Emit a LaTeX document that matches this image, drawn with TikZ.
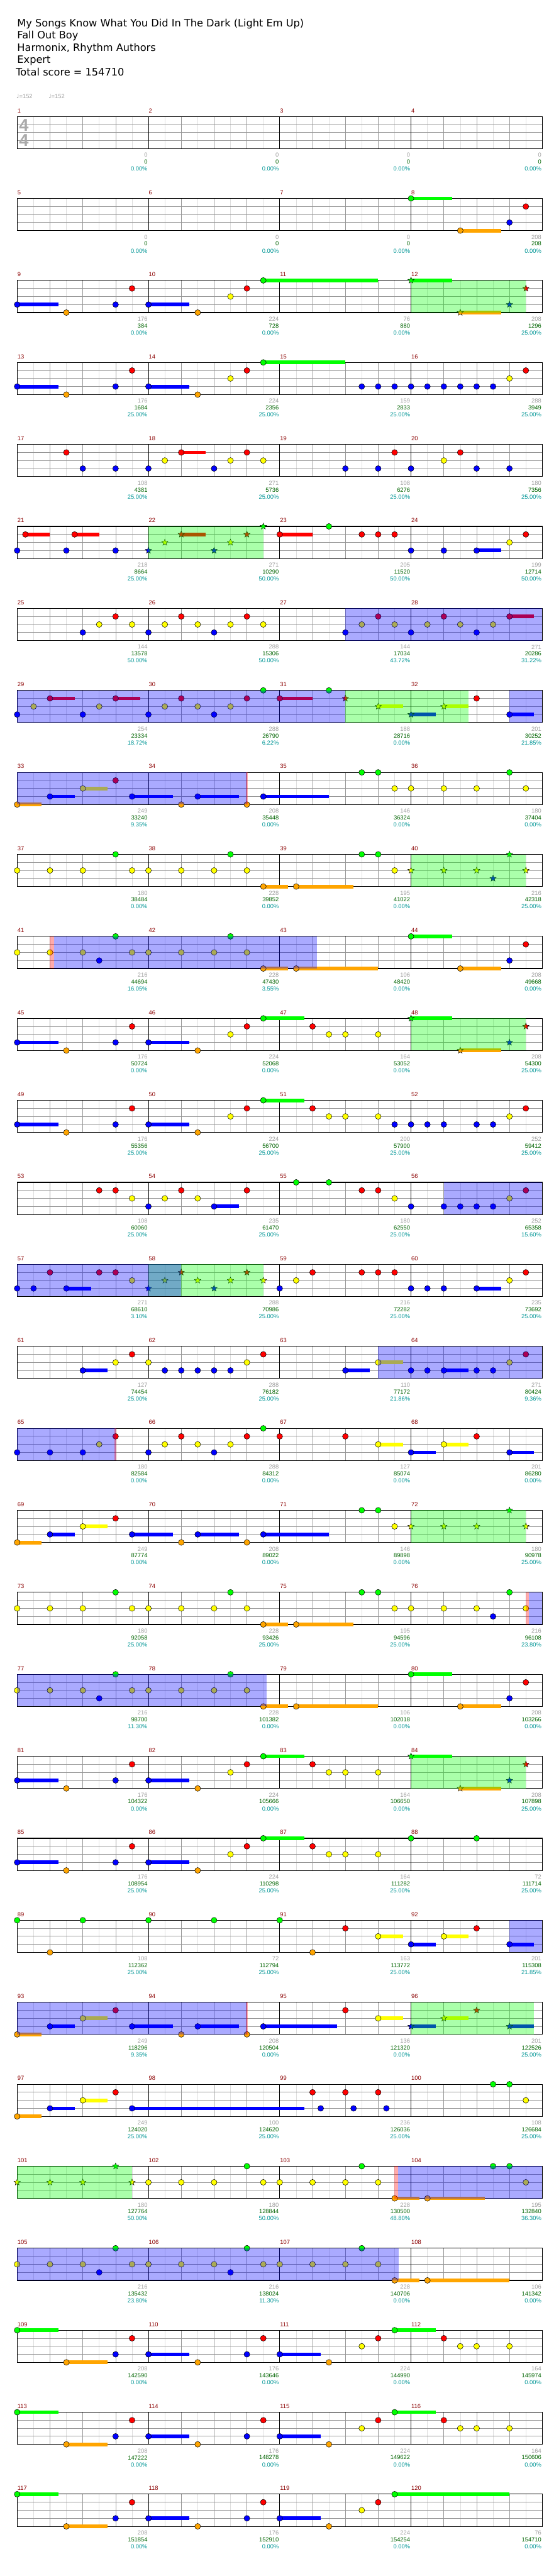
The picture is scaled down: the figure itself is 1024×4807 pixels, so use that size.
\documentclass[tikz,border=0pt]{standalone}
\usepackage{fontspec}
\setmainfont{DejaVu Sans}
\newfontfamily\numfont{Liberation Sans}
\usetikzlibrary{shapes.geometric}
\definecolor{c0}{RGB}{0,255,0}
\definecolor{c1}{RGB}{255,0,0}
\definecolor{c2}{RGB}{255,255,0}
\definecolor{c3}{RGB}{0,0,255}
\definecolor{c4}{RGB}{255,165,0}
\definecolor{mnum}{RGB}{139,0,0}
\definecolor{gnum}{RGB}{160,160,160}
\definecolor{snum}{RGB}{0,100,0}
\definecolor{pnum}{RGB}{0,150,150}
\definecolor{lgrid}{RGB}{222,222,222}
\definecolor{dgrid}{RGB}{150,150,150}
\definecolor{tsig}{RGB}{170,170,170}
\tikzset{
  notehead/.style={draw=black,line width=0.6pt},
  starnote/.style={star,star points=5,star point ratio=2.3,minimum size=12.5pt,inner sep=0pt,draw=black,line width=0.5pt},
  mlab/.style={anchor=west,inner sep=0pt,text=mnum,font=\numfont\fontsize{11}{12}\selectfont},
  glab/.style={anchor=east,inner sep=0pt,text=gnum,font=\numfont\fontsize{11}{12}\selectfont},
  slab/.style={anchor=east,inner sep=0pt,text=snum,font=\numfont\fontsize{11}{12}\selectfont},
  plab/.style={anchor=east,inner sep=0pt,text=pnum,font=\numfont\fontsize{11}{12}\selectfont},
  titletext/.style={anchor=base west,inner sep=0pt,font=\fontsize{19}{23}\selectfont},
  tempotext/.style={anchor=west,inner sep=0pt,text=gnum,font=\fontsize{11}{12}\selectfont},
  tsigtext/.style={inner sep=0pt,text=tsig,font=\numfont\bfseries\fontsize{32}{34}\selectfont}
}
\newcommand\Grid{%
  \foreach \xI in {1,3,...,31} \draw[lgrid,line width=0.8pt] ({32+30.625*\xI},0) -- ++(0,60);
  \foreach \xI in {2,4,6,10,12,14,18,20,22,26,28,30} \draw[dgrid,line width=0.8pt] ({32+30.625*\xI},0) -- ++(0,60);
  \foreach \xI in {1,2,3} \draw[dgrid,line width=1pt] (32,15*\xI) -- (1012,15*\xI);
  \foreach \xI in {8,16,24} \draw[black,line width=0.7pt] ({32+30.625*\xI},0) -- ++(0,60);
  \draw[black,line width=1.3pt] (32,0) rectangle (1012,60);
}
\newcommand\Sus[1]{\foreach \xT/\xL/\xE in {#1} {\fill[c\xL] ({32+30.625*\xT},{15*\xL-3.4}) rectangle ({32+30.625*\xE},{15*\xL+3.4});}}
\newcommand\Notes[1]{\foreach \xT/\xL in {#1} {\filldraw[notehead,fill=c\xL] ({32+30.625*\xT},{15*\xL}) circle[radius=5.4];}}
\newcommand\Stars[1]{\foreach \xT/\xL in {#1} {\node[starnote,fill=c\xL] at ({32+30.625*\xT},{15*\xL}) {};}}
\newcommand\GZ[2]{\fill[c0,fill opacity=0.333] ({32+30.625*#1},0) rectangle ({32+30.625*#2},60);}
\newcommand\BZ[2]{\fill[c3,fill opacity=0.333] ({32+30.625*#1},0) rectangle ({32+30.625*#2},60);}
\newcommand\PZ[2]{\fill[c1,fill opacity=0.333] ({32+30.625*#1},0) rectangle ({32+30.625*#2},60);}
\newcommand\Labs[2]{\foreach \xG/\xN/\xP [count=\xM from 0] in {#2} {%
  \node[mlab] (m\the\numexpr#1+\xM\relax) at ({32.5+245*\xM},-11) {\the\numexpr#1+\xM\relax};
  \node[glab] at ({275.5+245*\xM},72) {\xG};
  \node[slab] at ({275.5+245*\xM},84.7) {\xN};
  \node[plab] at ({275.5+245*\xM},97.7) {\xP\%};}}
\newcommand\RowAt[1]{{217.3+153*#1}}
\begin{document}
\begin{tikzpicture}[x=1pt,y=-1pt]
\fill[white] (0,0) rectangle (1024,4807);
\useasboundingbox (0,0) rectangle (1024,4807);
% header
\node[titletext] (t1) at (32,50) {My Songs Know What You Did In The Dark (Light Em Up)};
\node[titletext] (t2) at (32,72.5) {Fall Out Boy};
\node[titletext] (t3) at (32,95.5) {Harmonix, Rhythm Authors};
\node[titletext] (t4) at (32,118.5) {Expert};
\node[titletext] (t5) at (29.5,141.5) {Total score = 154710};
\node[tempotext] (tp1) at (30.5,180) {♩{\numfont=152}};
\node[tempotext] (tp2) at (90.5,180) {♩{\numfont=152}};
% row 0
\begin{scope}[shift={(0,\RowAt{0})}]
\Grid
\node[tsigtext] (ts1) at (44.5,16) {4};
\node[tsigtext] (ts2) at (44.5,45) {4};
\Labs{1}{0/0/0.00,0/0/0.00,0/0/0.00,0/0/0.00}
\end{scope}
% row 1
\begin{scope}[shift={(0,\RowAt{1})}]
\Grid
\Sus{24/0/26.5,27/4/29.5}
\Notes{24/0,31/1,30/3,27/4}
\Labs{5}{0/0/0.00,0/0/0.00,0/0/0.00,208/208/0.00}
\end{scope}
% row 2
\begin{scope}[shift={(0,\RowAt{2})}]
\Grid
\Sus{0/3/2.5,8/3/10.5,15/0/22,24/0/26.5,27/4/29.5}
\Notes{0/3,3/4,6/3,7/1,8/3,11/4,13/2,14/1,15/0}
\Stars{24/0,27/4,30/3,31/1}
\GZ{24}{31}
\Labs{9}{176/384/0.00,224/728/0.00,76/880/0.00,208/1296/25.00}
\end{scope}
% row 3
\begin{scope}[shift={(0,\RowAt{3})}]
\Grid
\Sus{0/3/2.5,8/3/10.5,15/0/20}
\Notes{0/3,3/4,6/3,7/1,8/3,11/4,13/2,14/1,15/0,21/3,22/3,23/3,24/3,25/3,26/3,27/3,28/3,29/3,30/2,31/1}
\Labs{13}{176/1684/25.00,224/2356/25.00,159/2833/25.00,288/3949/25.00}
\end{scope}
% row 4
\begin{scope}[shift={(0,\RowAt{4})}]
\Grid
\Sus{10/1/11.5}
\Notes{3/1,4/3,6/3,8/3,9/2,10/1,12/3,13/2,14/1,15/2,20/3,22/3,23/1,24/3,26/2,27/1,28/3,30/3}
\Labs{17}{108/4381/25.00,271/5736/25.00,108/6276/25.00,180/7356/25.00}
\end{scope}
% row 5
\begin{scope}[shift={(0,\RowAt{5})}]
\Grid
\Sus{0.5/1/2,3.5/1/5,10/1/11.5,16/1/18,28/3/29.5}
\Notes{0/3,0.5/1,3/3,3.5/1,6/3,16/1,19/0,21/1,22/1,23/1,24/3,26/3,28/3,30/2,31/1}
\Stars{8/3,9/2,10/1,12/3,13/2,14/1,15/0}
\GZ{8}{15}
\Labs{21}{218/8664/25.00,271/10290/50.00,205/11520/50.00,199/12714/50.00}
\end{scope}
% row 6
\begin{scope}[shift={(0,\RowAt{6})}]
\Grid
\Sus{30/1/31.5}
\Notes{4/3,5/2,6/1,7/2,8/3,9/2,10/1,11/2,12/3,13/2,14/1,15/2,20/3,21/2,22/1,23/2,24/3,25/2,26/1,27/2,28/3,29/2,30/1}
\BZ{20}{32}
\Labs{25}{144/13578/50.00,288/15306/50.00,144/17034/43.72,271/20286/31.22}
\end{scope}
% row 7
\begin{scope}[shift={(0,\RowAt{7})}]
\Grid
\Sus{2/1/3.5,6/1/7.5,16/1/18,22/2/23.5,24/3/25.5,26/2/27.5,30/3/31.5}
\Notes{0/3,1/2,2/1,4/3,5/2,6/1,8/3,9/2,10/1,11/2,12/3,13/2,14/1,15/0,16/1,19/0,28/1,30/3}
\Stars{20/1,22/2,24/3,26/2}
\GZ{20}{27.5}
\BZ{0}{20}
\BZ{30}{32}
\Labs{29}{254/23334/18.72,288/26790/6.22,188/28716/0.00,201/30252/21.85}
\end{scope}
% row 8
\begin{scope}[shift={(0,\RowAt{8})}]
\Grid
\Sus{0/4/1.5,2/3/3.5,4/2/5.5,7/3/9.5,11/3/13.5,15/3/19}
\Notes{0/4,2/3,4/2,6/1,7/3,10/4,11/3,14/4,15/3,21/0,22/0,23/2,24/2,26/2,28/2,30/0,31/2}
\BZ{0}{14}
\PZ{13.94}{14.04}
\Labs{33}{249/33240/9.35,208/35448/0.00,146/36324/0.00,180/37404/0.00}
\end{scope}
% row 9
\begin{scope}[shift={(0,\RowAt{9})}]
\Grid
\Sus{15/4/16.5,17/4/20.5}
\Notes{0/2,2/2,4/2,6/0,7/2,8/2,10/2,12/2,13/0,14/2,15/4,17/4,21/0,22/0,23/2}
\Stars{24/2,26/2,28/2,29/3,30/0,31/2}
\GZ{24}{31}
\Labs{37}{180/38484/0.00,228/39852/0.00,195/41022/0.00,216/42318/25.00}
\end{scope}
% row 10
\begin{scope}[shift={(0,\RowAt{10})}]
\Grid
\Sus{15/4/16.5,17/4/22,24/0/26.5,27/4/29.5}
\Notes{0/2,2/2,4/2,5/3,6/0,7/2,8/2,10/2,12/2,13/0,14/2,15/4,17/4,24/0,27/4,30/3,31/1}
\PZ{2}{2.25}
\BZ{2.25}{18.25}
\Labs{41}{216/44694/16.05,228/47430/3.55,106/48420/0.00,208/49668/0.00}
\end{scope}
% row 11
\begin{scope}[shift={(0,\RowAt{11})}]
\Grid
\Sus{0/3/2.5,8/3/10.5,15/0/17.5,24/0/26.5,27/4/29.5}
\Notes{0/3,3/4,6/3,7/1,8/3,11/4,13/2,14/1,15/0,18/1,19/2,20/2,22/2}
\Stars{24/0,27/4,30/3,31/1}
\GZ{24}{31}
\Labs{45}{176/50724/0.00,224/52068/0.00,164/53052/0.00,208/54300/25.00}
\end{scope}
% row 12
\begin{scope}[shift={(0,\RowAt{12})}]
\Grid
\Sus{0/3/2.5,8/3/10.5,15/0/17.5}
\Notes{0/3,3/4,6/3,7/1,8/3,11/4,13/2,14/1,15/0,18/1,19/2,20/2,22/2,23/3,24/3,25/3,26/3,28/3,29/3,30/2,31/1}
\Labs{49}{176/55356/25.00,224/56700/25.00,200/57900/25.00,252/59412/25.00}
\end{scope}
% row 13
\begin{scope}[shift={(0,\RowAt{13})}]
\Grid
\Sus{12/3/13.5}
\Notes{5/1,6/1,7/2,8/3,9/2,10/1,11/2,12/3,14/1,17/0,19/0,21/1,22/1,23/2,24/3,26/3,27/3,28/3,29/3,30/2,31/1}
\BZ{26}{32}
\Labs{53}{108/60060/25.00,235/61470/25.00,180/62550/25.00,252/65358/15.60}
\end{scope}
% row 14
\begin{scope}[shift={(0,\RowAt{14})}]
\Grid
\Sus{3/3/4.5,28/3/29.5}
\Notes{0/3,1/3,2/1,3/3,5/1,6/1,7/2,16/3,17/2,18/1,21/1,22/1,23/1,24/3,25/3,26/3,28/3,30/2,31/1}
\Stars{8/3,9/2,10/1,11/2,12/3,13/2,14/1,15/2}
\GZ{8}{15}
\BZ{0}{10}
\Labs{57}{271/68610/3.10,288/70986/25.00,216/72282/25.00,235/73692/25.00}
\end{scope}
% row 15
\begin{scope}[shift={(0,\RowAt{15})}]
\Grid
\Sus{4/3/5.5,20/3/21.5,22/2/23.5,26/3/27.5}
\Notes{4/3,6/2,7/1,8/2,9/3,10/3,11/3,12/3,13/3,14/2,15/1,20/3,22/2,24/3,25/3,26/3,28/3,29/3,30/2,31/1}
\BZ{22}{32}
\Labs{61}{127/74454/25.00,288/76182/25.00,110/77172/21.86,271/80424/9.36}
\end{scope}
% row 16
\begin{scope}[shift={(0,\RowAt{16})}]
\Grid
\Sus{22/2/23.5,24/3/25.5,26/2/27.5,30/3/31.5}
\Notes{0/3,2/3,4/3,5/2,6/1,8/3,9/2,10/1,11/2,12/3,13/2,14/1,15/0,16/1,20/1,22/2,24/3,26/2,28/1,30/3}
\BZ{0}{6}
\PZ{5.94}{6.04}
\Labs{65}{180/82584/0.00,288/84312/0.00,127/85074/0.00,201/86280/0.00}
\end{scope}
% row 17
\begin{scope}[shift={(0,\RowAt{17})}]
\Grid
\Sus{0/4/1.5,2/3/3.5,4/2/5.5,7/3/9.5,11/3/13.5,15/3/19}
\Notes{0/4,2/3,4/2,6/1,7/3,10/4,11/3,14/4,15/3,21/0,22/0,23/2}
\Stars{24/2,26/2,28/2,30/0,31/2}
\GZ{24}{31}
\Labs{69}{249/87774/0.00,208/89022/0.00,146/89898/0.00,180/90978/25.00}
\end{scope}
% row 18
\begin{scope}[shift={(0,\RowAt{18})}]
\Grid
\Sus{15/4/16.5,17/4/20.5}
\Notes{0/2,2/2,4/2,6/0,7/2,8/2,10/2,12/2,13/0,14/2,15/4,17/4,21/0,22/0,23/2,24/2,26/2,28/2,29/3,30/0,31/2}
\PZ{31}{31.2}
\BZ{31.2}{32}
\Labs{73}{180/92058/25.00,228/93426/25.00,195/94596/25.00,216/96108/23.80}
\end{scope}
% row 19
\begin{scope}[shift={(0,\RowAt{19})}]
\Grid
\Sus{15/4/16.5,17/4/22,24/0/26.5,27/4/29.5}
\Notes{0/2,2/2,4/2,5/3,6/0,7/2,8/2,10/2,12/2,13/0,14/2,15/4,17/4,24/0,27/4,30/3,31/1}
\BZ{0}{15.2}
\Labs{77}{216/98700/11.30,228/101382/0.00,106/102018/0.00,208/103266/0.00}
\end{scope}
% row 20
\begin{scope}[shift={(0,\RowAt{20})}]
\Grid
\Sus{0/3/2.5,8/3/10.5,15/0/17.5,24/0/26.5,27/4/29.5}
\Notes{0/3,3/4,6/3,7/1,8/3,11/4,13/2,14/1,15/0,18/1,19/2,20/2,22/2}
\Stars{24/0,27/4,30/3,31/1}
\GZ{24}{31}
\Labs{81}{176/104322/0.00,224/105666/0.00,164/106650/0.00,208/107898/25.00}
\end{scope}
% row 21
\begin{scope}[shift={(0,\RowAt{21})}]
\Grid
\Sus{0/3/2.5,8/3/10.5,15/0/17.5}
\Notes{0/3,3/4,6/3,7/1,8/3,11/4,13/2,14/1,15/0,18/1,19/2,20/2,22/2,24/0,28/0}
\Labs{85}{176/108954/25.00,224/110298/25.00,164/111282/25.00,72/111714/25.00}
\end{scope}
% row 22
\begin{scope}[shift={(0,\RowAt{22})}]
\Grid
\Sus{22/2/23.5,24/3/25.5,26/2/27.5,30/3/31.5}
\Notes{0/0,2/4,4/0,8/0,12/0,16/0,18/4,20/1,22/2,24/3,26/2,28/1,30/3}
\BZ{30}{32}
\Labs{89}{108/112362/25.00,72/112794/25.00,163/113772/25.00,201/115308/21.85}
\end{scope}
% row 23
\begin{scope}[shift={(0,\RowAt{23})}]
\Grid
\Sus{0/4/1.5,2/3/3.5,4/2/5.5,7/3/9.5,11/3/13.5,15/3/19.5,22/2/23.5,24/3/25.5,26/2/27.5,30/3/31.5}
\Notes{0/4,2/3,4/2,6/1,7/3,10/4,11/3,14/4,15/3,20/1,22/2}
\Stars{24/3,26/2,28/1,30/3}
\GZ{24}{31.5}
\BZ{0}{14}
\PZ{13.94}{14.04}
\Labs{93}{249/118296/9.35,208/120504/0.00,136/121320/0.00,201/122526/25.00}
\end{scope}
% row 24
\begin{scope}[shift={(0,\RowAt{24})}]
\Grid
\Sus{0/4/1.5,2/3/3.5,4/2/5.5,7/3/17.5}
\Notes{0/4,2/3,4/2,6/1,7/3,18/1,18.5/3,20/1,20.5/3,22/1,22.5/3,29/0,30/0,31/2}
\Labs{97}{249/124020/25.00,100/124620/25.00,236/126036/25.00,108/126684/25.00}
\end{scope}
% row 25
\begin{scope}[shift={(0,\RowAt{25})}]
\Grid
\Sus{23/4/24.5,25/4/28.5}
\Notes{8/2,10/2,12/2,14/0,15/2,16/2,18/2,20/2,21/0,22/2,23/4,25/4,29/0,30/0,31/2}
\Stars{0/2,2/2,4/2,6/0,7/2}
\GZ{0}{7}
\PZ{23}{23.2}
\BZ{23.2}{32}
\Labs{101}{180/127764/50.00,180/128844/50.00,228/130500/48.80,195/132840/36.30}
\end{scope}
% row 26
\begin{scope}[shift={(0,\RowAt{26})}]
\Grid
\Sus{23/4/24.5,25/4/30}
\Notes{0/2,2/2,4/2,5/3,6/0,7/2,8/2,10/2,12/2,13/3,14/0,15/2,16/2,18/2,20/2,21/0,22/2,23/4,25/4}
\BZ{0}{23.25}
\Labs{105}{216/135432/23.80,216/138024/11.30,228/140706/0.00,106/141342/0.00}
\end{scope}
% row 27
\begin{scope}[shift={(0,\RowAt{27})}]
\Grid
\Sus{0/0/2.5,3/4/5.5,8/3/10.5,16/3/18.5,23/0/25.5}
\Notes{0/0,3/4,6/3,7/1,8/3,11/4,14/3,15/1,16/3,19/4,21/2,22/1,23/0,26/1,27/2,28/2,30/2}
\Labs{109}{208/142590/0.00,176/143646/0.00,224/144990/0.00,164/145974/0.00}
\end{scope}
% row 28
\begin{scope}[shift={(0,\RowAt{28})}]
\Grid
\Sus{0/0/2.5,3/4/5.5,8/3/10.5,16/3/18.5,23/0/25.5}
\Notes{0/0,3/4,6/3,7/1,8/3,11/4,14/3,15/1,16/3,19/4,21/2,22/1,23/0,26/1,27/2,28/2,30/2}
\Labs{113}{208/147222/0.00,176/148278/0.00,224/149622/0.00,164/150606/0.00}
\end{scope}
% row 29
\begin{scope}[shift={(0,\RowAt{29})}]
\Grid
\Sus{0/0/2.5,3/4/5.5,8/3/10.5,16/3/18.5,23/0/30}
\Notes{0/0,3/4,6/3,7/1,8/3,11/4,14/3,15/1,16/3,19/4,21/2,22/1,23/0}
\Labs{117}{208/151854/0.00,176/152910/0.00,224/154254/0.00,76/154710/0.00}
\end{scope}
\end{tikzpicture}
\end{document}
